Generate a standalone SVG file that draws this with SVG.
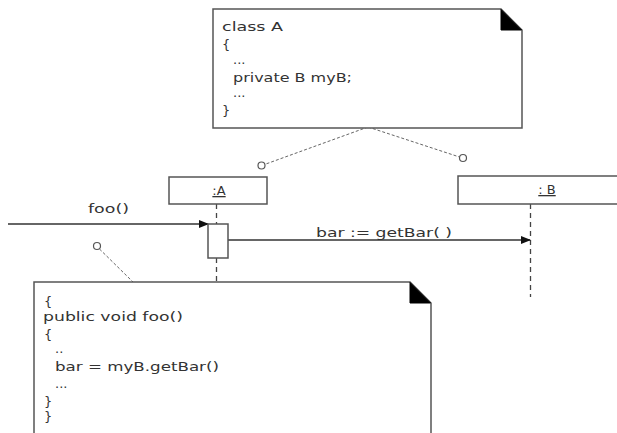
<svg xmlns="http://www.w3.org/2000/svg" width="617" height="433" viewBox="0 0 617 433">
<style>
text{font-family:"DejaVu Sans","Verdana",sans-serif;font-size:13px;fill:#333}
.box{fill:#fff;stroke:#555;stroke-width:1.5}
.fold{fill:#000;stroke:#000;stroke-width:1}
.life{stroke:#444;stroke-width:1.3;stroke-dasharray:5,4;fill:none}
.note-link{stroke:#666;stroke-width:1;stroke-dasharray:3,2;fill:none}
.msg{stroke:#333;stroke-width:1.3;fill:none}
.dot{fill:#fff;stroke:#555;stroke-width:1.2}
</style>
<defs>
<marker id="arr" markerWidth="10" markerHeight="8" refX="9" refY="4" orient="auto" markerUnits="userSpaceOnUse">
<path d="M0,0 L10,4 L0,8 Z" fill="#111"/>
</marker>
</defs>
<g id="connectors">
<line class="life" x1="216.5" y1="204" x2="216.5" y2="224"/>
<line class="life" x1="216.5" y1="258" x2="216.5" y2="282"/>
<line class="life" x1="530.5" y1="204" x2="530.5" y2="297"/>
<line class="msg" x1="8" y1="224" x2="208" y2="224" marker-end="url(#arr)"/>
<line class="msg" x1="228" y1="240" x2="530" y2="240" marker-end="url(#arr)"/>
<line class="note-link" x1="368" y1="127" x2="264.5" y2="164.5"/>
<line class="note-link" x1="368" y1="127" x2="459.5" y2="157"/>
<line class="note-link" x1="99.5" y1="249" x2="133" y2="282"/>
<circle class="dot" cx="261.5" cy="165.5" r="3.5"/>
<circle class="dot" cx="463" cy="158" r="3.5"/>
<circle class="dot" cx="97" cy="246" r="3.5"/>
<text x="88" y="213" textLength="41" lengthAdjust="spacingAndGlyphs">foo()</text>
<text x="316" y="237" textLength="136" lengthAdjust="spacingAndGlyphs">bar := getBar( )</text>
</g>
<g id="noteA">
<path class="box" d="M213,9 H501 L522,30 V128 H213 Z"/>
<path class="fold" d="M501,9.5 L521.5,30 H501 Z"/>
<text x="222" y="31" textLength="61" lengthAdjust="spacingAndGlyphs">class A</text>
<text x="222" y="49">{</text>
<text x="233" y="64">...</text>
<text x="233" y="82" textLength="119" lengthAdjust="spacingAndGlyphs">private B myB;</text>
<text x="233" y="97">...</text>
<text x="222" y="115">}</text>
</g>
<g id="lifelineA">
<rect class="box" x="169" y="177" width="98" height="27"/>
<text x="219" y="195" text-anchor="middle" text-decoration="underline">:A</text>
</g>
<g id="lifelineB">
<rect class="box" x="458" y="176" width="170" height="28"/>
<text x="547" y="194" text-anchor="middle" text-decoration="underline">: B</text>
</g>
<g id="activationA">
<rect class="box" x="208" y="224" width="20" height="34"/>
</g>
<g id="noteFoo">
<path class="box" d="M34,282 H410 L431,303 V440 H34 Z"/>
<path class="fold" d="M410,282.5 L430.5,303 H410 Z"/>
<text x="44" y="306">{</text>
<text x="43" y="321" textLength="140" lengthAdjust="spacingAndGlyphs">public void foo()</text>
<text x="44" y="339">{</text>
<text x="55" y="353">..</text>
<text x="55" y="371" textLength="164" lengthAdjust="spacingAndGlyphs">bar = myB.getBar()</text>
<text x="55" y="388">...</text>
<text x="44" y="406">}</text>
<text x="44" y="421">}</text>
</g>
</svg>
